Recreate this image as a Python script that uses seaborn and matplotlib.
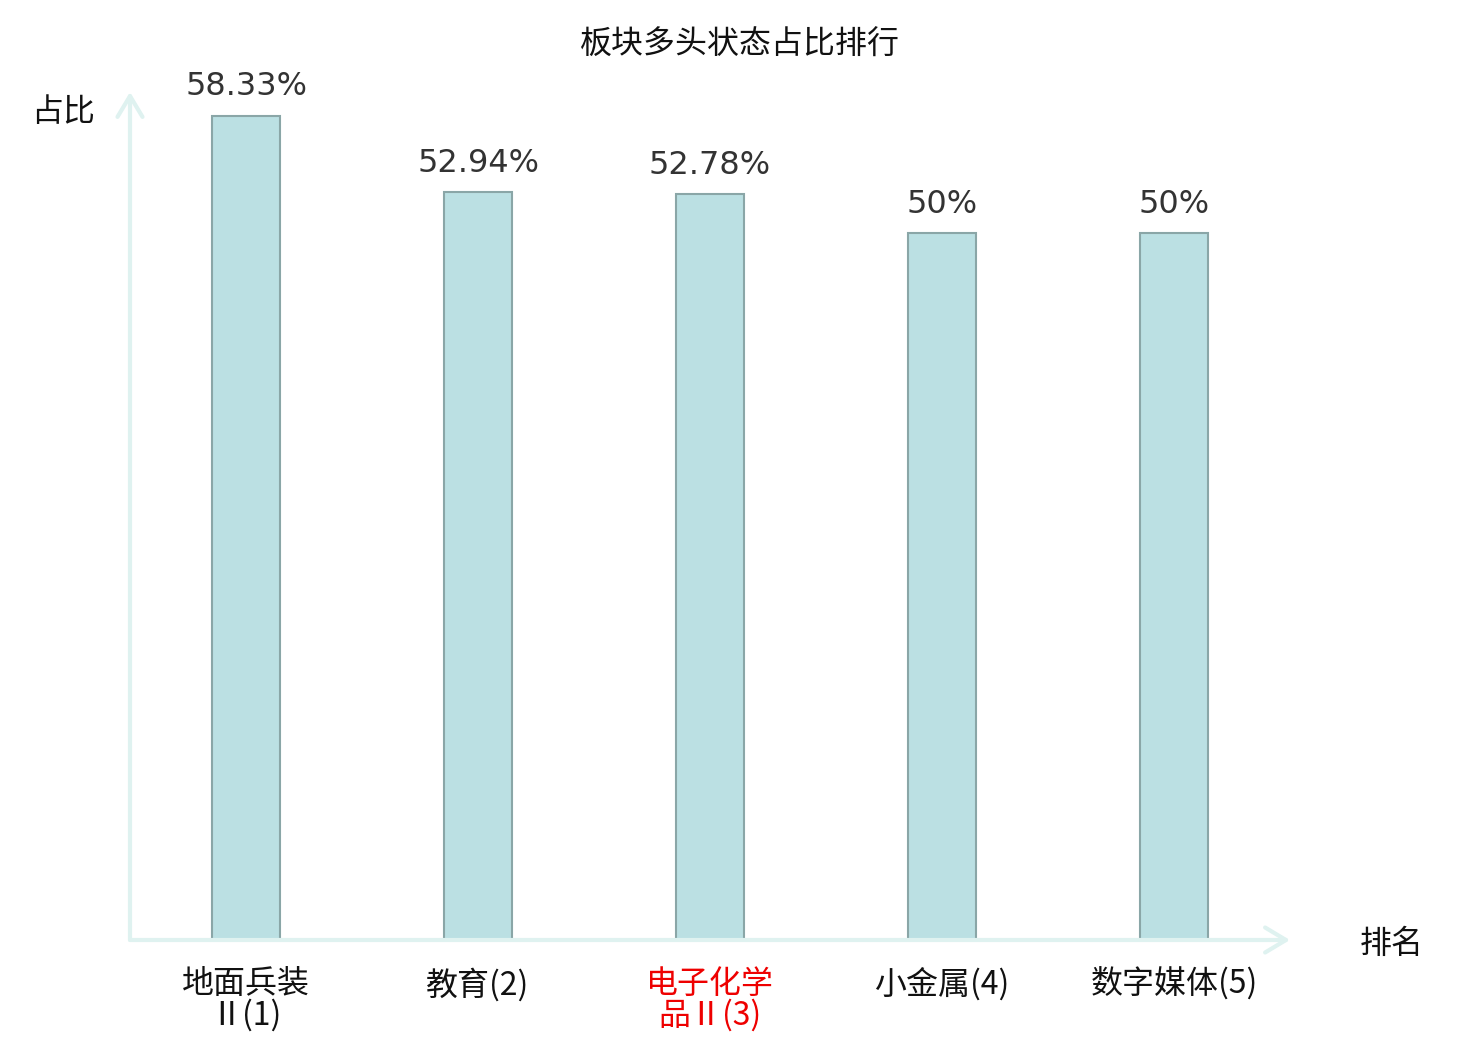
import matplotlib
matplotlib.use("Agg")
import matplotlib.pyplot as plt
import seaborn as sns
import pandas as pd

categories = ["地面兵装\nⅡ(1)", "教育(2)", "电子化学\n品Ⅱ(3)", "小金属(4)", "数字媒体(5)"]
values = [58.33, 52.94, 52.78, 50, 50]
highlight = [False, False, True, False, False]
title = "板块多头状态占比排行"
y_label = "占比"
x_label = "排名"

sns.set_style("white")
plt.rcParams['font.family'] = ['Noto Sans CJK SC', 'DejaVu Sans']

df = pd.DataFrame({"cat": categories, "val": values})

fig = plt.figure(figsize=(14.8, 10.4), dpi=100)
ax = fig.add_axes([130/1480, 100/1040, 1160/1480, 848/1040])

sns.barplot(data=df, x="cat", y="val", ax=ax, color="#bbe0e3",
            edgecolor="#8aa6a7", linewidth=1.5, width=0.293, saturation=1)

ax.set_xlim(-0.5, 4.5)
ax.set_ylim(0, 60)
for s in ax.spines.values():
    s.set_visible(False)
ax.set_yticks([])
ax.set_xlabel("")
ax.set_ylabel("")
ax.tick_params(axis='x', length=0, pad=20, labelsize=23)
ax.set_xticks(range(len(categories)))
ax.set_xticklabels(categories, linespacing=0.97)
for lab, hl in zip(ax.get_xticklabels(), highlight):
    lab.set_color("#ee0000" if hl else "#111111")

ax.bar_label(ax.containers[0], labels=[f"{v:g}%" for v in values], padding=9.5,
             fontsize=23, color="#333333", family=['DejaVu Sans'])

axis_col = "#dff2f0"
ax.annotate('', xy=(1.0, 0), xytext=(0, 0), xycoords='axes fraction',
            arrowprops=dict(arrowstyle='->,head_length=0.5,head_width=0.3', color=axis_col,
                            lw=3, mutation_scale=30, shrinkA=0, shrinkB=0),
            annotation_clip=False)
ax.annotate('', xy=(0, 1.0), xytext=(0, 0), xycoords='axes fraction',
            arrowprops=dict(arrowstyle='->,head_length=0.5,head_width=0.3', color=axis_col,
                            lw=3, mutation_scale=30, shrinkA=0, shrinkB=0),
            annotation_clip=False)

fig.text(740/1480, 1 - 45/1040, title, ha='center', va='center', fontsize=23, color="#111111")
fig.text(63/1480, 1 - 112/1040, y_label, ha='center', va='center', fontsize=23, color="#111111")
fig.text(1392/1480, 1 - 944/1040, x_label, ha='center', va='center', fontsize=23, color="#111111")

fig.savefig("out.png", dpi=100, facecolor="white")
